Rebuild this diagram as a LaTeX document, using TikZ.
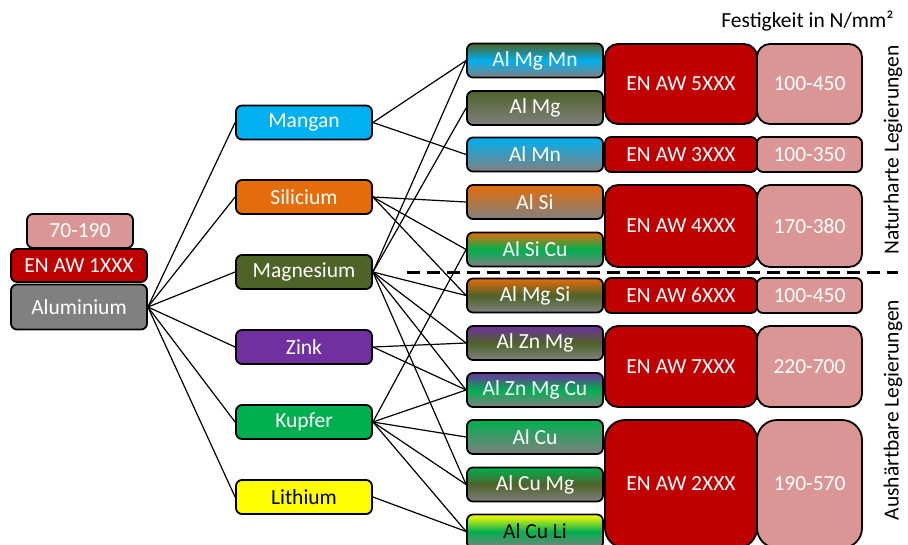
\documentclass[tikz,border=0pt]{standalone}
\usepackage{fontspec}
\setmainfont{Carlito}

\definecolor{alugray}{RGB}{128,128,128}
\definecolor{enred}{RGB}{192,0,0}
\definecolor{festrose}{RGB}{217,150,148}
\definecolor{mncol}{RGB}{0,176,240}
\definecolor{sicol}{RGB}{228,108,10}
\definecolor{mgcol}{RGB}{79,98,40}
\definecolor{zncol}{RGB}{112,48,160}
\definecolor{cucol}{RGB}{0,176,80}
\definecolor{licol}{RGB}{255,255,0}

\begin{document}
\begin{tikzpicture}[x=1pt, y=-1pt,
  box/.style={draw=black, line width=1.8pt, rounded corners=6pt, text=white,
    inner sep=0pt, font=\fontsize{21.5}{25}\selectfont},
  element/.style={box, minimum width=136pt, minimum height=34pt},
  alloy/.style={box, minimum width=136pt, minimum height=34pt},
  norm/.style={box, fill=enred, minimum width=152pt},
  fest/.style={box, fill=festrose, minimum width=105pt},
  conn/.style={line width=1.2pt}]
\useasboundingbox (0,0) rectangle (908,544);

% Aluminium
\node[box, fill=festrose, minimum width=106pt, minimum height=34pt] (f1) at (80,231) {70-190};
\node[box, fill=enred, minimum width=136pt, minimum height=33pt] (en1) at (79,265.5) {EN AW 1XXX};
\node[box, fill=alugray, minimum width=136pt, minimum height=45pt] (alu) at (79,307) {Aluminium};

% Legierungselemente
\node[element, fill=mncol] (mn) at (304,122.5) {Mangan};
\node[element, fill=sicol] (si) at (304,197) {Silicium};
\node[element, fill=mgcol] (mg) at (304,272) {Magnesium};
\node[element, fill=zncol] (zn) at (304,347) {Zink};
\node[element, fill=cucol] (cu) at (304,422) {Kupfer};
\node[element, fill=licol, text=black] (li) at (304,497) {Lithium};

% Legierungen
\node[alloy, top color=mgcol, bottom color=alugray, middle color=mncol] (amgmn) at (535,60.5) {Al Mg Mn};
\node[alloy, top color=mgcol, bottom color=alugray] (amg) at (535,108) {Al Mg};
\node[alloy, top color=mncol, bottom color=alugray] (amn) at (535,154.5) {Al Mn};
\node[alloy, top color=sicol, bottom color=alugray] (asi) at (535,202) {Al Si};
\node[alloy, top color=sicol, bottom color=alugray, middle color=cucol] (asicu) at (535,249.5) {Al Si Cu};
\node[alloy, top color=sicol, bottom color=alugray, middle color=mgcol] (amgsi) at (535,295.5) {Al Mg Si};
\node[alloy, top color=zncol, bottom color=alugray, middle color=mgcol] (aznmg) at (535,343) {Al Zn Mg};
\node[alloy, top color=zncol, bottom color=alugray, middle color=cucol] (aznmgcu) at (535,390) {Al Zn Mg Cu};
\node[alloy, top color=cucol, bottom color=alugray] (acu) at (535,437) {Al Cu};
\node[alloy, top color=cucol, bottom color=alugray, middle color=mgcol] (acumg) at (535,484.5) {Al Cu Mg};
\node[alloy, top color=licol, bottom color=alugray, middle color=cucol, text=black] (aculi) at (535,531.5) {Al Cu Li};

% Normbezeichnung und Festigkeit
\node[norm, minimum height=80pt, rounded corners=13pt] (n5) at (681,84) {EN AW 5XXX};
\node[fest, minimum height=80pt, rounded corners=13pt] (f5) at (809.5,84) {100-450};
\node[norm, minimum height=35pt] (n3) at (681,154.5) {EN AW 3XXX};
\node[fest, minimum height=35pt] (f3) at (809.5,154.5) {100-350};
\node[norm, minimum height=82pt, rounded corners=13pt] (n4) at (681,226) {EN AW 4XXX};
\node[fest, minimum height=82pt, rounded corners=13pt] (f4) at (809.5,226) {170-380};
\node[norm, minimum height=35pt] (n6) at (681,295.5) {EN AW 6XXX};
\node[fest, minimum height=35pt] (f6) at (809.5,295.5) {100-450};
\node[norm, minimum height=81pt, rounded corners=13pt] (n7) at (681,366.5) {EN AW 7XXX};
\node[fest, minimum height=81pt, rounded corners=13pt] (f7) at (809.5,366.5) {220-700};
\node[norm, minimum height=128pt, rounded corners=20pt] (n2) at (681,484) {EN AW 2XXX};
\node[fest, minimum height=128pt, rounded corners=20pt] (f2) at (809.5,484) {190-570};

\node[anchor=east, font=\fontsize{21.5}{25}\selectfont] (titel) at (897,21) {Festigkeit in N/mm²};
\node[rotate=90, font=\fontsize{21.5}{25}\selectfont] (natur) at (893,150) {Naturharte Legierungen};
\node[rotate=90, font=\fontsize{21.5}{25}\selectfont] (aush) at (893,410) {Aushärtbare Legierungen};

\coordinate (trennA) at (407,272);
\coordinate (trennB) at (898,272);
\draw[line width=3pt, dash pattern=on 13pt off 7pt] (trennA) -- (trennB);

\foreach \e in {mn,si,mg,zn,cu,li}
  \draw[conn] (alu.east) -- (\e.west);
\foreach \e/\a in {mn/amgmn, mn/amn, si/asi, si/asicu, si/amgsi,
    mg/amgmn, mg/amg, mg/amgsi, mg/aznmg, mg/aznmgcu, mg/acumg,
    zn/aznmg, zn/aznmgcu, cu/asicu, cu/aznmgcu, cu/acu, cu/acumg, cu/aculi,
    li/aculi}
  \draw[conn] (\e.east) -- (\a.west);
\end{tikzpicture}
\end{document}
